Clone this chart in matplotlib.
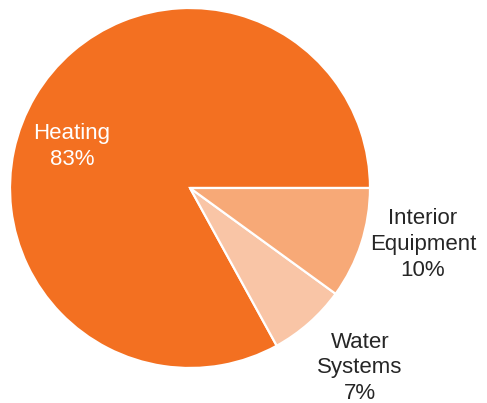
import matplotlib
matplotlib.use("Agg")
import matplotlib.pyplot as plt

plt.rcParams['font.family'] = ['Liberation Sans', 'DejaVu Sans']

categories = ["Heating", "Water\nSystems", "Interior\nEquipment"]
shares = [83, 7, 10]
colors = ["#F37021", "#F9C5A6", "#F7A977"]

# label positions in axes data units (pie radius = 1)
label_pos = [(-0.656, 0.23), (0.944, -1.0), (1.294, -0.315)]
label_col = ["white", "#262626", "#262626"]

W, H = 487, 403
fig = plt.figure(figsize=(W / 100, H / 100), dpi=100)
cx, cy, r = 190, 188, 180
ax = fig.add_axes([(cx - r) / W, (H - cy - r) / H, 2 * r / W, 2 * r / H])

ax.pie(shares, colors=colors, startangle=0, counterclock=True,
       wedgeprops=dict(edgecolor="white", linewidth=1.6))
ax.set_xlim(-1, 1)
ax.set_ylim(-1, 1)
ax.set_aspect("auto")
ax.axis("off")

for name, val, (x, y), c in zip(categories, shares, label_pos, label_col):
    ax.text(x, y, f"{name}\n{val}%", ha="center", va="center", fontsize=16,
            color=c, linespacing=1.3, clip_on=False)

fig.savefig("out.png", dpi=100)
